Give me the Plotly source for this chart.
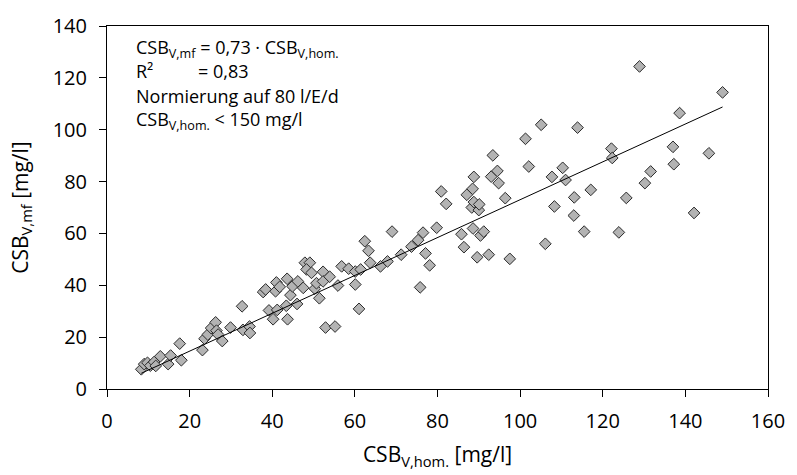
import plotly.graph_objects as go

# CSB_V,hom. [mg/l]
x_hom = [8.3, 9.0, 9.8, 10.5, 11.4, 11.8, 12.9, 14.8, 15.4, 17.6, 18.0, 23.1, 23.6, 24.4,
         25.2, 26.3, 26.5, 26.9, 27.9, 29.9, 32.7, 32.9, 34.5, 34.6,
         37.8, 38.4, 39.2, 40.2, 40.8, 41.0, 41.2, 41.8, 43.4, 43.6, 43.7, 44.4, 44.9, 46.0,
         46.2, 47.5, 47.9, 49.1, 48.3, 49.5, 50.3, 50.7, 51.4, 52.3, 52.3, 52.9, 53.9, 55.2,
         55.9, 56.8, 58.5, 60.1, 60.1, 61.0, 61.4, 62.4, 63.3, 63.7, 66.2, 67.9, 69.0, 71.2,
         73.7, 75.3, 75.8, 76.5, 77.1, 78.1, 79.8,
         80.9, 82.1, 85.8, 86.4, 87.1, 88.3, 88.5, 88.6, 88.8, 88.8, 89.6, 90.0, 90.1, 90.4,
         91.2, 92.4, 93.0, 93.4, 94.5, 94.8, 96.4, 97.5, 101.3, 102.1, 105.1, 106.1, 107.7,
         108.3, 110.3, 111.0, 113.0, 113.1, 113.9, 115.5, 117.1, 122.1, 122.3, 123.9, 125.7,
         128.9, 130.2, 131.6, 137.0, 137.2, 138.6, 142.1, 145.7, 149.0]
# CSB_V,mf [mg/l]
y_mf = [7.6, 9.6, 10.1, 9.0, 10.4, 8.9, 12.6, 9.6, 12.9, 17.5, 11.1, 15.0, 19.4, 21.0,
        23.5, 25.7, 22.5, 21.0, 18.5, 23.7, 31.9, 22.8, 24.1, 21.6,
        37.4, 38.4, 30.3, 26.9, 37.7, 41.1, 30.5, 39.4, 32.1, 42.5, 26.9, 36.2, 39.6, 32.8,
        41.5, 39.0, 48.7, 48.7, 46.1, 44.8, 38.7, 40.8, 35.0, 45.2, 41.5, 23.7, 43.3, 24.1,
        39.9, 47.3, 46.4, 45.3, 40.3, 30.9, 46.1, 57.0, 53.3, 48.7, 47.3, 49.2, 60.7, 51.8,
        54.9, 57.4, 39.2, 60.3, 52.3, 47.7, 62.2,
        76.2, 71.4, 59.7, 54.7, 74.9, 70.0, 77.2, 61.9, 72.1, 81.8, 50.8, 69.0, 71.2, 59.2,
        60.7, 51.8, 81.9, 90.1, 84.1, 79.4, 73.6, 50.2, 96.5, 85.8, 101.9, 56.0, 81.8,
        70.4, 85.3, 80.6, 66.9, 73.9, 100.8, 60.7, 76.8, 92.7, 89.1, 60.4, 73.7,
        124.4, 79.4, 83.9, 93.4, 86.7, 106.4, 67.9, 90.9, 114.4]

slope = 0.73
x_ticks = [0, 20, 40, 60, 80, 100, 120, 140, 160]
y_ticks = [0, 20, 40, 60, 80, 100, 120, 140]

trend_x = [min(x_hom), max(x_hom)]
trend_y = [slope * v for v in trend_x]

FONT = "Open Sans"

fig = go.Figure()
fig.add_trace(go.Scatter(
    x=x_hom, y=y_mf, mode="markers",
    marker=dict(symbol="diamond", size=9, color="#b3b3b3",
                line=dict(color="#2b2b2b", width=1)),
    showlegend=False, hoverinfo="x+y"))
fig.add_trace(go.Scatter(
    x=trend_x, y=trend_y, mode="lines",
    line=dict(color="black", width=1), showlegend=False, hoverinfo="skip"))

axis_common = dict(showgrid=False, zeroline=False, showline=True, linecolor="black",
                   linewidth=1, mirror=True, ticks="outside", ticklen=7, tickcolor="black",
                   tickwidth=1, tickfont=dict(family=FONT, size=20, color="black"))

fig.update_xaxes(range=[0, 160], tickvals=x_ticks, ticklabelstandoff=7,
                 title=dict(text="CSB<sub>V,hom.</sub> [mg/l]",
                            font=dict(family=FONT, size=21, color="black"), standoff=14),
                 **axis_common)
fig.update_yaxes(range=[0, 140], tickvals=y_ticks, ticklabelstandoff=8,
                 title=dict(text="CSB<sub>V,mf</sub> [mg/l]",
                            font=dict(family=FONT, size=21, color="black"), standoff=18),
                 **axis_common)

afont = dict(family=FONT, size=18, color="black")
annos = [
    (0.041, 0.937, "CSB<sub>V,mf</sub> = 0,73 · CSB<sub>V,hom.</sub>"),
    (0.041, 0.877, "R²"),
    (0.134, 0.877, "= 0,83"),
    (0.041, 0.807, "Normierung auf 80 l/E/d"),
    (0.041, 0.740, "CSB<sub>V,hom.</sub> < 150 mg/l"),
]
for ax_, ay_, t in annos:
    fig.add_annotation(x=ax_, y=ay_, xref="paper", yref="paper", text=t,
                       showarrow=False, xanchor="left", yanchor="middle", font=afont)

fig.update_layout(width=797, height=475, margin=dict(l=107, r=18, t=17, b=82),
                  plot_bgcolor="white", paper_bgcolor="white",
                  font=dict(family=FONT, color="black"))

fig.write_html("out.html")
